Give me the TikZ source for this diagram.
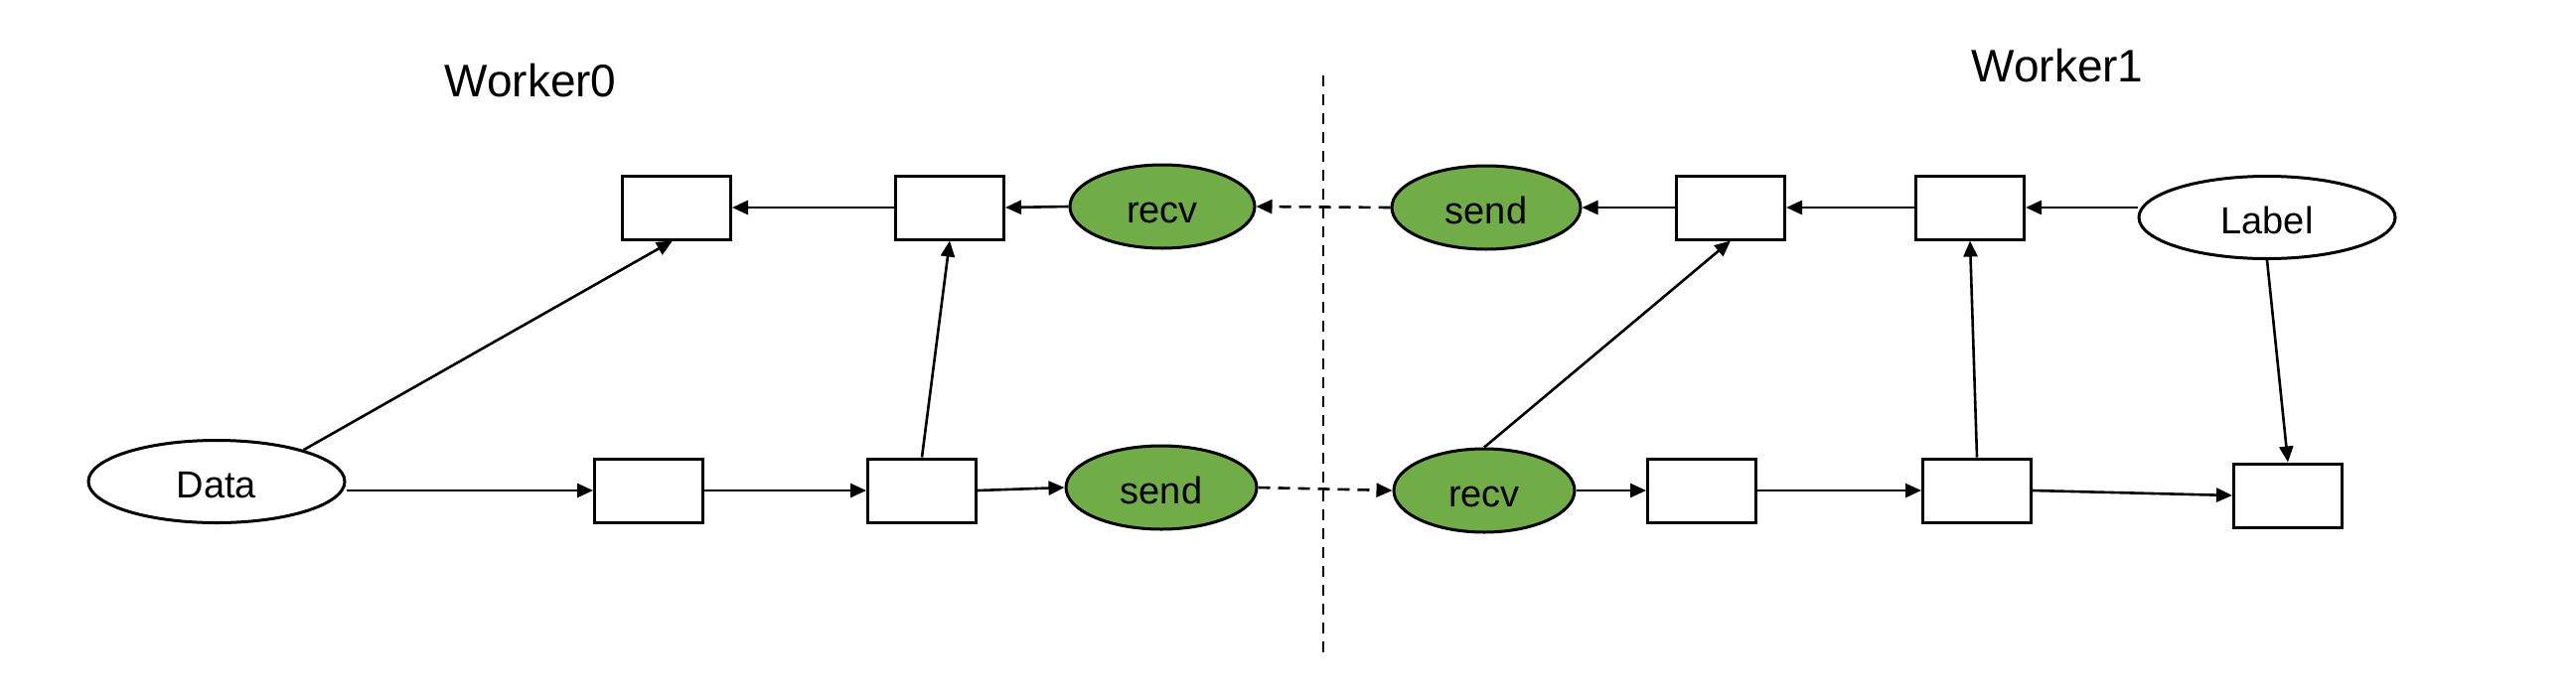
\documentclass[tikz,border=0pt]{standalone}
\usepackage{fontspec}
\setmainfont{Liberation Sans}
\usetikzlibrary{shapes.geometric,arrows.meta}
\definecolor{opgreen}{HTML}{70AD47}
\begin{document}
\begin{tikzpicture}[x=1pt,y=-1pt,
  box/.style={draw,line width=3pt,rectangle,minimum width=109pt,minimum height=64pt,inner sep=0pt,fill=white},
  oval/.style={draw,line width=3pt,ellipse,inner sep=0pt,font=\fontsize{38}{44}\selectfont,text height=32pt,text depth=0pt},
  opnode/.style={oval,fill=opgreen,minimum width=186pt,minimum height=84pt},
  datanode/.style={oval,fill=white,minimum width=258pt,minimum height=83pt},
  title/.style={font=\fontsize{46}{54}\selectfont},
  flow/.style={line width=2.6pt,-{Triangle[length=16pt,width=14pt]}},
  comm/.style={flow,dash pattern=on 12pt off 8pt},
  divider/.style={line width=2pt,dash pattern=on 11pt off 8pt}
]
\useasboundingbox (0,0) rectangle (2593,702);
\node[title] (w0) at (534,81) {Worker0};
\node[title] (w1) at (2071,66) {Worker1};
\coordinate (dtop) at (1332,76);
\coordinate (dbot) at (1332,660);
\draw[divider] (dtop) -- (dbot);
% Worker0
\node[box] (A) at (681,209) {};
\node[box] (B) at (956,209) {};
\node[opnode] (recv0) at (1170,208) {recv};
\node[datanode] (data) at (218,485) {Data};
\node[box] (E) at (653,494) {};
\node[box] (F) at (928,494) {};
\node[opnode,minimum width=192pt] (send0) at (1169,491) {send};
% Worker1
\node[opnode,minimum width=190pt] (send1) at (1496,209) {send};
\node[box] (C) at (1742,209) {};
\node[box] (D) at (1983,209) {};
\node[datanode] (label) at (2282,219) {Label};
\node[opnode,minimum width=182pt] (recv1) at (1494,494) {recv};
\node[box] (G) at (1713,494) {};
\node[box] (H) at (1990,494) {};
\node[box] (I) at (2303,499) {};
% edges Worker0
\draw[flow] (data.20) -- ([xshift=-4pt]A.south);
\draw[flow] (data.east |- E.west) -- (E.west);
\draw[flow] (E) -- (F);
\draw[flow] (F.east) -- (send0.west);
\draw[flow] (F.north) -- (B.south);
\draw[flow] (B) -- (A);
\draw[flow] (recv0.west) -- (B.east);
% cross-worker
\draw[comm] (send1.west) -- (recv0.east);
\draw[comm] (send0.east) -- (recv1.west);
% edges Worker1
\draw[flow] (recv1.east) -- (G.west);
\draw[flow] (G) -- (H);
\draw[flow] (H.east) -- (I.west);
\draw[flow] (H.north) -- (D.south);
\draw[flow] (recv1.north) -- (C.south);
\draw[flow] (C.west) -- (send1.east);
\draw[flow] (D) -- (C);
\draw[flow] (label.west |- D.east) -- (D.east);
\draw[flow] (label.south) -- (I.north);
\end{tikzpicture}
\end{document}
